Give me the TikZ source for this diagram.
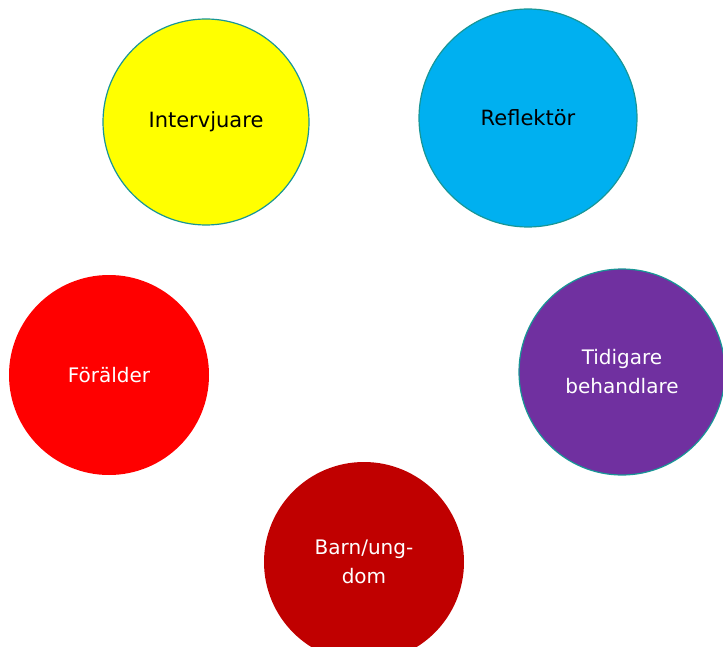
\documentclass[tikz,border=0pt]{standalone}
\usepackage{fontspec}
\setmainfont{DejaVu Sans}
\definecolor{ringteal}{RGB}{24,150,150}
\definecolor{gulroll}{RGB}{255,255,0}
\definecolor{blaroll}{RGB}{0,176,240}
\definecolor{rodroll}{RGB}{255,0,0}
\definecolor{lilaroll}{RGB}{112,48,160}
\definecolor{morkrod}{RGB}{192,0,0}
\begin{document}
\begin{tikzpicture}[x=1pt, y=-1pt, line join=round, line cap=round,
	role/.style={circle, inner sep=0pt, align=center},
	ringed/.style={draw=ringteal, line width=1.2pt},
	darktext/.style={text=black, font=\fontsize{21}{29}\selectfont},
	lighttext/.style={text=white, font=\fontsize{20}{29}\selectfont}]
	\useasboundingbox (0,0) rectangle (723,647);
	\clip (0,0) rectangle (723,647);
	% upper row
	\node[role, ringed, darktext, fill=gulroll, minimum size=206pt] (intervjuare) at (206,122) {Intervjuare};
	\node[role, ringed, darktext, fill=blaroll, minimum size=218pt] (reflektor) at (528,118) {Reflekt\"or};
	% middle row
	\node[role, lighttext, fill=rodroll, minimum size=200pt] (foralder) at (109,375) {F\"or\"alder};
	\node[role, ringed, lighttext, fill=lilaroll, minimum size=206pt] (behandlare) at (622,372) {Tidigare\\behandlare};
	% bottom
	\node[role, lighttext, fill=morkrod, minimum size=200pt] (barn) at (364,562) {Barn/ung-\\dom};
\end{tikzpicture}
\end{document}
